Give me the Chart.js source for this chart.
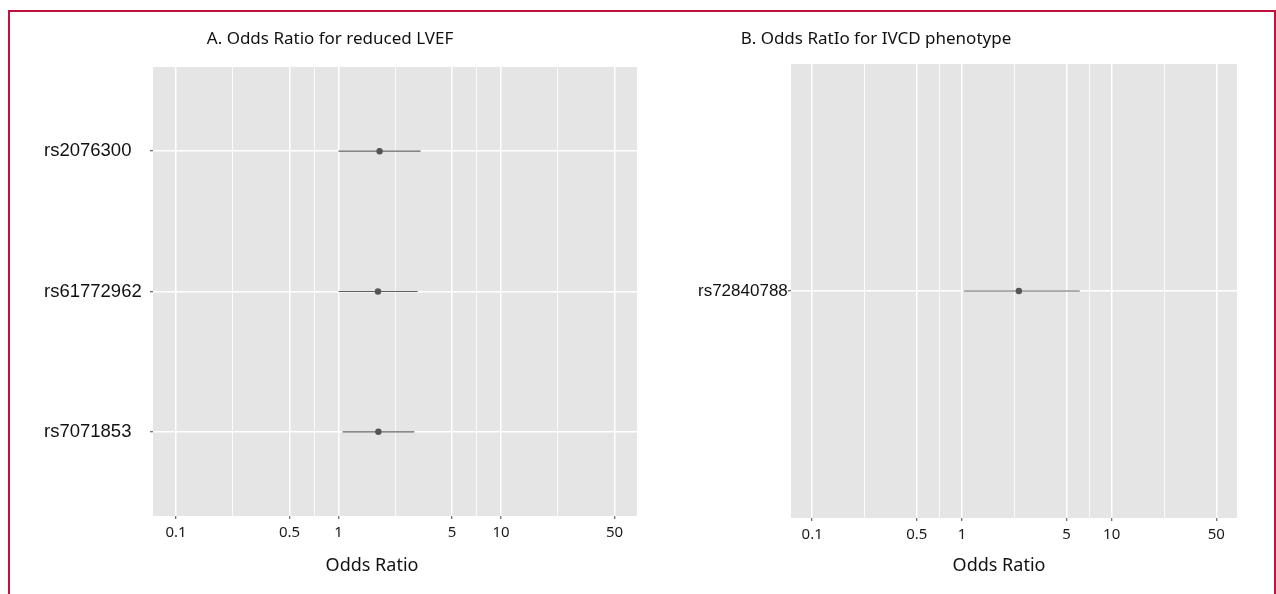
<!DOCTYPE html>
<html>
<head>
<meta charset="utf-8">
<script src="https://cdn.jsdelivr.net/npm/chart.js@4.4.1/dist/chart.umd.min.js"></script>
<style>
body { margin: 0; background: #fff; width: 1276px; height: 594px; overflow: hidden; position: relative; }
#frame { position: absolute; left: 8px; top: 10px; width: 1264px; height: 600px; border: 2px solid #c2113f; border-bottom: none; }
.panel { position: absolute; top: 12px; height: 582px; }
#panelA { left: 22px; width: 640px; }
#panelB { left: 662px; width: 612px; }
</style>
</head>
<body>
<div id="frame"></div>
<div class="panel" id="panelA"><canvas id="chartA"></canvas></div>
<div class="panel" id="panelB"><canvas id="chartB"></canvas></div>
<script>
// Panel A data (bottom row first)
const snpsA = ['rs7071853', 'rs61772962', 'rs2076300'];
const oddsA = [1.76, 1.75, 1.79];
const lowerA = [1.06, 1.0, 1.0];
const upperA = [2.93, 3.07, 3.2];

// Panel B data
const snpsB = ['rs72840788'];
const oddsB = [2.4];
const lowerB = [1.03];
const upperB = [6.12];

// x axis breaks
const majorTicks = [0.1, 0.5, 1, 5, 10, 50];
const tickLabels = ['0.1', '0.5', '1', '5', '10', '50'];

// minor grid lines sit half way between majors on the log scale (like ggplot)
const allTicks = [];
majorTicks.forEach((v, i) => {
    allTicks.push(v);
    if (i < majorTicks.length - 1) allTicks.push(Math.sqrt(v * majorTicks[i + 1]));
});

function majorIndex(v) {
    return majorTicks.findIndex(m => Math.abs(m - v) / m < 1e-6);
}

const panelBg = {
    id: 'panelBg',
    beforeDraw(chart) {
        const a = chart.chartArea;
        const ctx = chart.ctx;
        ctx.save();
        ctx.fillStyle = '#e5e5e5';
        ctx.fillRect(a.left, a.top, a.right - a.left, a.bottom - a.top);
        ctx.restore();
    }
};

const panelText = {
    id: 'panelText',
    afterDraw(chart, args, opts) {
        const ctx = chart.ctx;
        ctx.save();
        ctx.fillStyle = '#111';
        ctx.textAlign = 'center';
        ctx.textBaseline = 'middle';
        ctx.font = '17px "Noto Sans"';
        ctx.fillText(opts.title, opts.titleX, opts.titleY);
        ctx.font = '18px "Noto Sans"';
        ctx.fillText(opts.xTitle, opts.xTitleX, opts.xTitleY);
        ctx.restore();
    }
};

function makeChart(id, snps, odds, lower, upper, lay) {
    const datasets = [{
        type: 'scatter',
        data: odds.map((v, i) => ({ x: v, y: i + 1 })),
        backgroundColor: '#555555',
        borderWidth: 0,
        pointRadius: 3.2
    }];
    snps.forEach((s, i) => {
        datasets.push({
            type: 'line',
            data: [{ x: lower[i], y: i + 1 }, { x: upper[i], y: i + 1 }],
            borderColor: '#626262',
            borderWidth: 1.2,
            pointRadius: 0
        });
    });

    return new Chart(document.getElementById(id), {
        type: 'scatter',
        data: { datasets: datasets },
        options: {
            animation: false,
            responsive: true,
            maintainAspectRatio: false,
            layout: { padding: lay.padding },
            plugins: {
                legend: { display: false },
                tooltip: { enabled: false },
                panelText: lay.text
            },
            scales: {
                x: {
                    type: 'logarithmic',
                    min: 0.0722,
                    max: 68.7,
                    afterBuildTicks: scale => { scale.ticks = allTicks.map(v => ({ value: v })); },
                    afterFit: scale => { scale.height = lay.xHeight; },
                    border: { display: false },
                    grid: {
                        color: '#ffffff',
                        lineWidth: c => majorIndex(c.tick.value) >= 0 ? 1.5 : 0.8,
                        tickColor: c => majorIndex(c.tick.value) >= 0 ? '#444' : 'rgba(0,0,0,0)',
                        tickWidth: 1,
                        tickLength: 3
                    },
                    ticks: {
                        autoSkip: false,
                        maxRotation: 0,
                        padding: 5,
                        color: '#1a1a1a',
                        font: { family: 'Noto Sans', size: 15 },
                        callback: v => {
                            const k = majorIndex(v);
                            return k >= 0 ? tickLabels[k] : '';
                        }
                    }
                },
                y: {
                    type: 'linear',
                    min: 0.4,
                    max: snps.length + 0.6,
                    afterBuildTicks: scale => { scale.ticks = snps.map((s, i) => ({ value: i + 1 })); },
                    afterFit: scale => { scale.width = lay.yWidth; },
                    border: { display: false },
                    grid: {
                        color: '#ffffff',
                        lineWidth: 1.5,
                        tickColor: '#444',
                        tickWidth: 1,
                        tickLength: 3
                    },
                    ticks: {
                        autoSkip: false,
                        crossAlign: 'far',
                        padding: 0,
                        color: '#111',
                        font: { family: 'Liberation Sans', size: lay.yFont },
                        callback: (v, i) => snps[i]
                    }
                }
            }
        },
        plugins: [panelBg, panelText]
    });
}

makeChart('chartA', snpsA, oddsA, lowerA, upperA, {
    padding: { left: 22, right: 25, top: 55, bottom: 0 },
    yWidth: 109,
    xHeight: 78,
    yFont: 18.5,
    text: {
        title: 'A. Odds Ratio for reduced LVEF', titleX: 308, titleY: 27,
        xTitle: 'Odds Ratio', xTitleX: 350, xTitleY: 554
    }
});

makeChart('chartB', snpsB, oddsB, lowerB, upperB, {
    padding: { left: 36, right: 37, top: 52, bottom: 0 },
    yWidth: 93,
    xHeight: 76,
    yFont: 17,
    text: {
        title: 'B. Odds RatIo for IVCD phenotype', titleX: 214, titleY: 27,
        xTitle: 'Odds Ratio', xTitleX: 337, xTitleY: 554
    }
});
</script>
</body>
</html>
